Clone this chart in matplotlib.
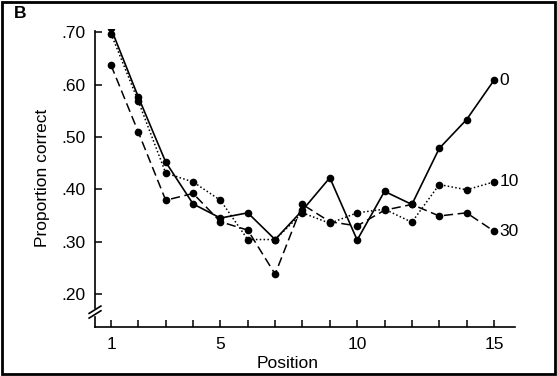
import matplotlib
matplotlib.use("Agg")
import matplotlib.pyplot as plt
from matplotlib.lines import Line2D
from matplotlib.patches import Rectangle

positions = list(range(1, 16))
series_0 = [0.707, 0.576, 0.452, 0.372, 0.345, 0.355, 0.304, 0.360, 0.422, 0.303, 0.396, 0.371, 0.478, 0.533, 0.608]
series_10 = [0.697, 0.568, 0.431, 0.414, 0.379, 0.304, 0.304, 0.355, 0.335, 0.355, 0.362, 0.337, 0.409, 0.399, 0.414]
series_30 = [0.637, 0.509, 0.379, 0.392, 0.338, 0.322, 0.238, 0.371, 0.338, 0.330, 0.360, 0.371, 0.349, 0.355, 0.320]
series_labels = ["0", "10", "30"]
yticks = [0.20, 0.30, 0.40, 0.50, 0.60, 0.70]
ytick_labels = [".20", ".30", ".40", ".50", ".60", ".70"]
xticks_labeled = [1, 5, 10, 15]

plt.rcParams['font.family'] = ['Liberation Sans', 'DejaVu Sans']

W, H = 557, 376
fig = plt.figure(figsize=(W / 100, H / 100), dpi=100)
ax = fig.add_axes([95 / W, 1 - 327 / H, 420 / W, 298 / H])

ax.plot(positions, series_0, color='black', lw=1.2, ls='-', marker='o', ms=4.5)
ax.plot(positions, series_10, color='black', lw=1.1, ls=(0, (1, 1.5)), marker='o', ms=4.5)
ax.plot(positions, series_30, color='black', lw=1.1, ls=(0, (6, 3)), marker='o', ms=4.5)

for vals, lab in zip([series_0, series_10, series_30], series_labels):
    ax.annotate(lab, (positions[-1], vals[-1]), xytext=(4, 0), textcoords='offset points',
                ha='left', va='center', fontsize=12.5)

ax.set_xlim(0.415, 15.77)
ax.set_ylim(0.137, 0.706)

for s in ['top', 'right']:
    ax.spines[s].set_visible(False)
ax.spines['left'].set_bounds(0.174, 0.703)
ax.spines['left'].set_linewidth(1.2)
ax.spines['bottom'].set_linewidth(1.2)

# lower stub of the broken y axis and the break marks
trans = ax.get_yaxis_transform()
ax.add_line(Line2D([0, 0], [0.137, 0.157], transform=trans,
                   color='black', lw=1.2, clip_on=False))
for yc in [0.161, 0.170]:
    ax.add_line(Line2D([-0.014, 0.014], [yc - 0.007, yc + 0.007], transform=trans,
                       color='black', lw=1.2, clip_on=False))

ax.set_yticks(yticks)
ax.set_yticklabels(ytick_labels)
ax.set_xticks(positions)
ax.set_xticklabels([str(p) if p in xticks_labeled else "" for p in positions])
ax.tick_params(axis='both', direction='in', length=5, width=1.1, labelsize=12.5, pad=7)

fig.text(43 / W, 1 - 178 / H, "Proportion correct", rotation=90, ha='center', va='center', fontsize=12.5)
fig.text(288 / W, 1 - 364 / H, "Position", ha='center', va='center', fontsize=12.5)
fig.text(20 / W, 1 - 13 / H, "B", ha='center', va='center', fontsize=12.5, fontweight='bold')

fig.patches.append(Rectangle((2 / W, 2 / H), (W - 4) / W, (H - 4) / H, transform=fig.transFigure,
                             fill=False, edgecolor='black', lw=2))

fig.savefig("out.png", dpi=100)
